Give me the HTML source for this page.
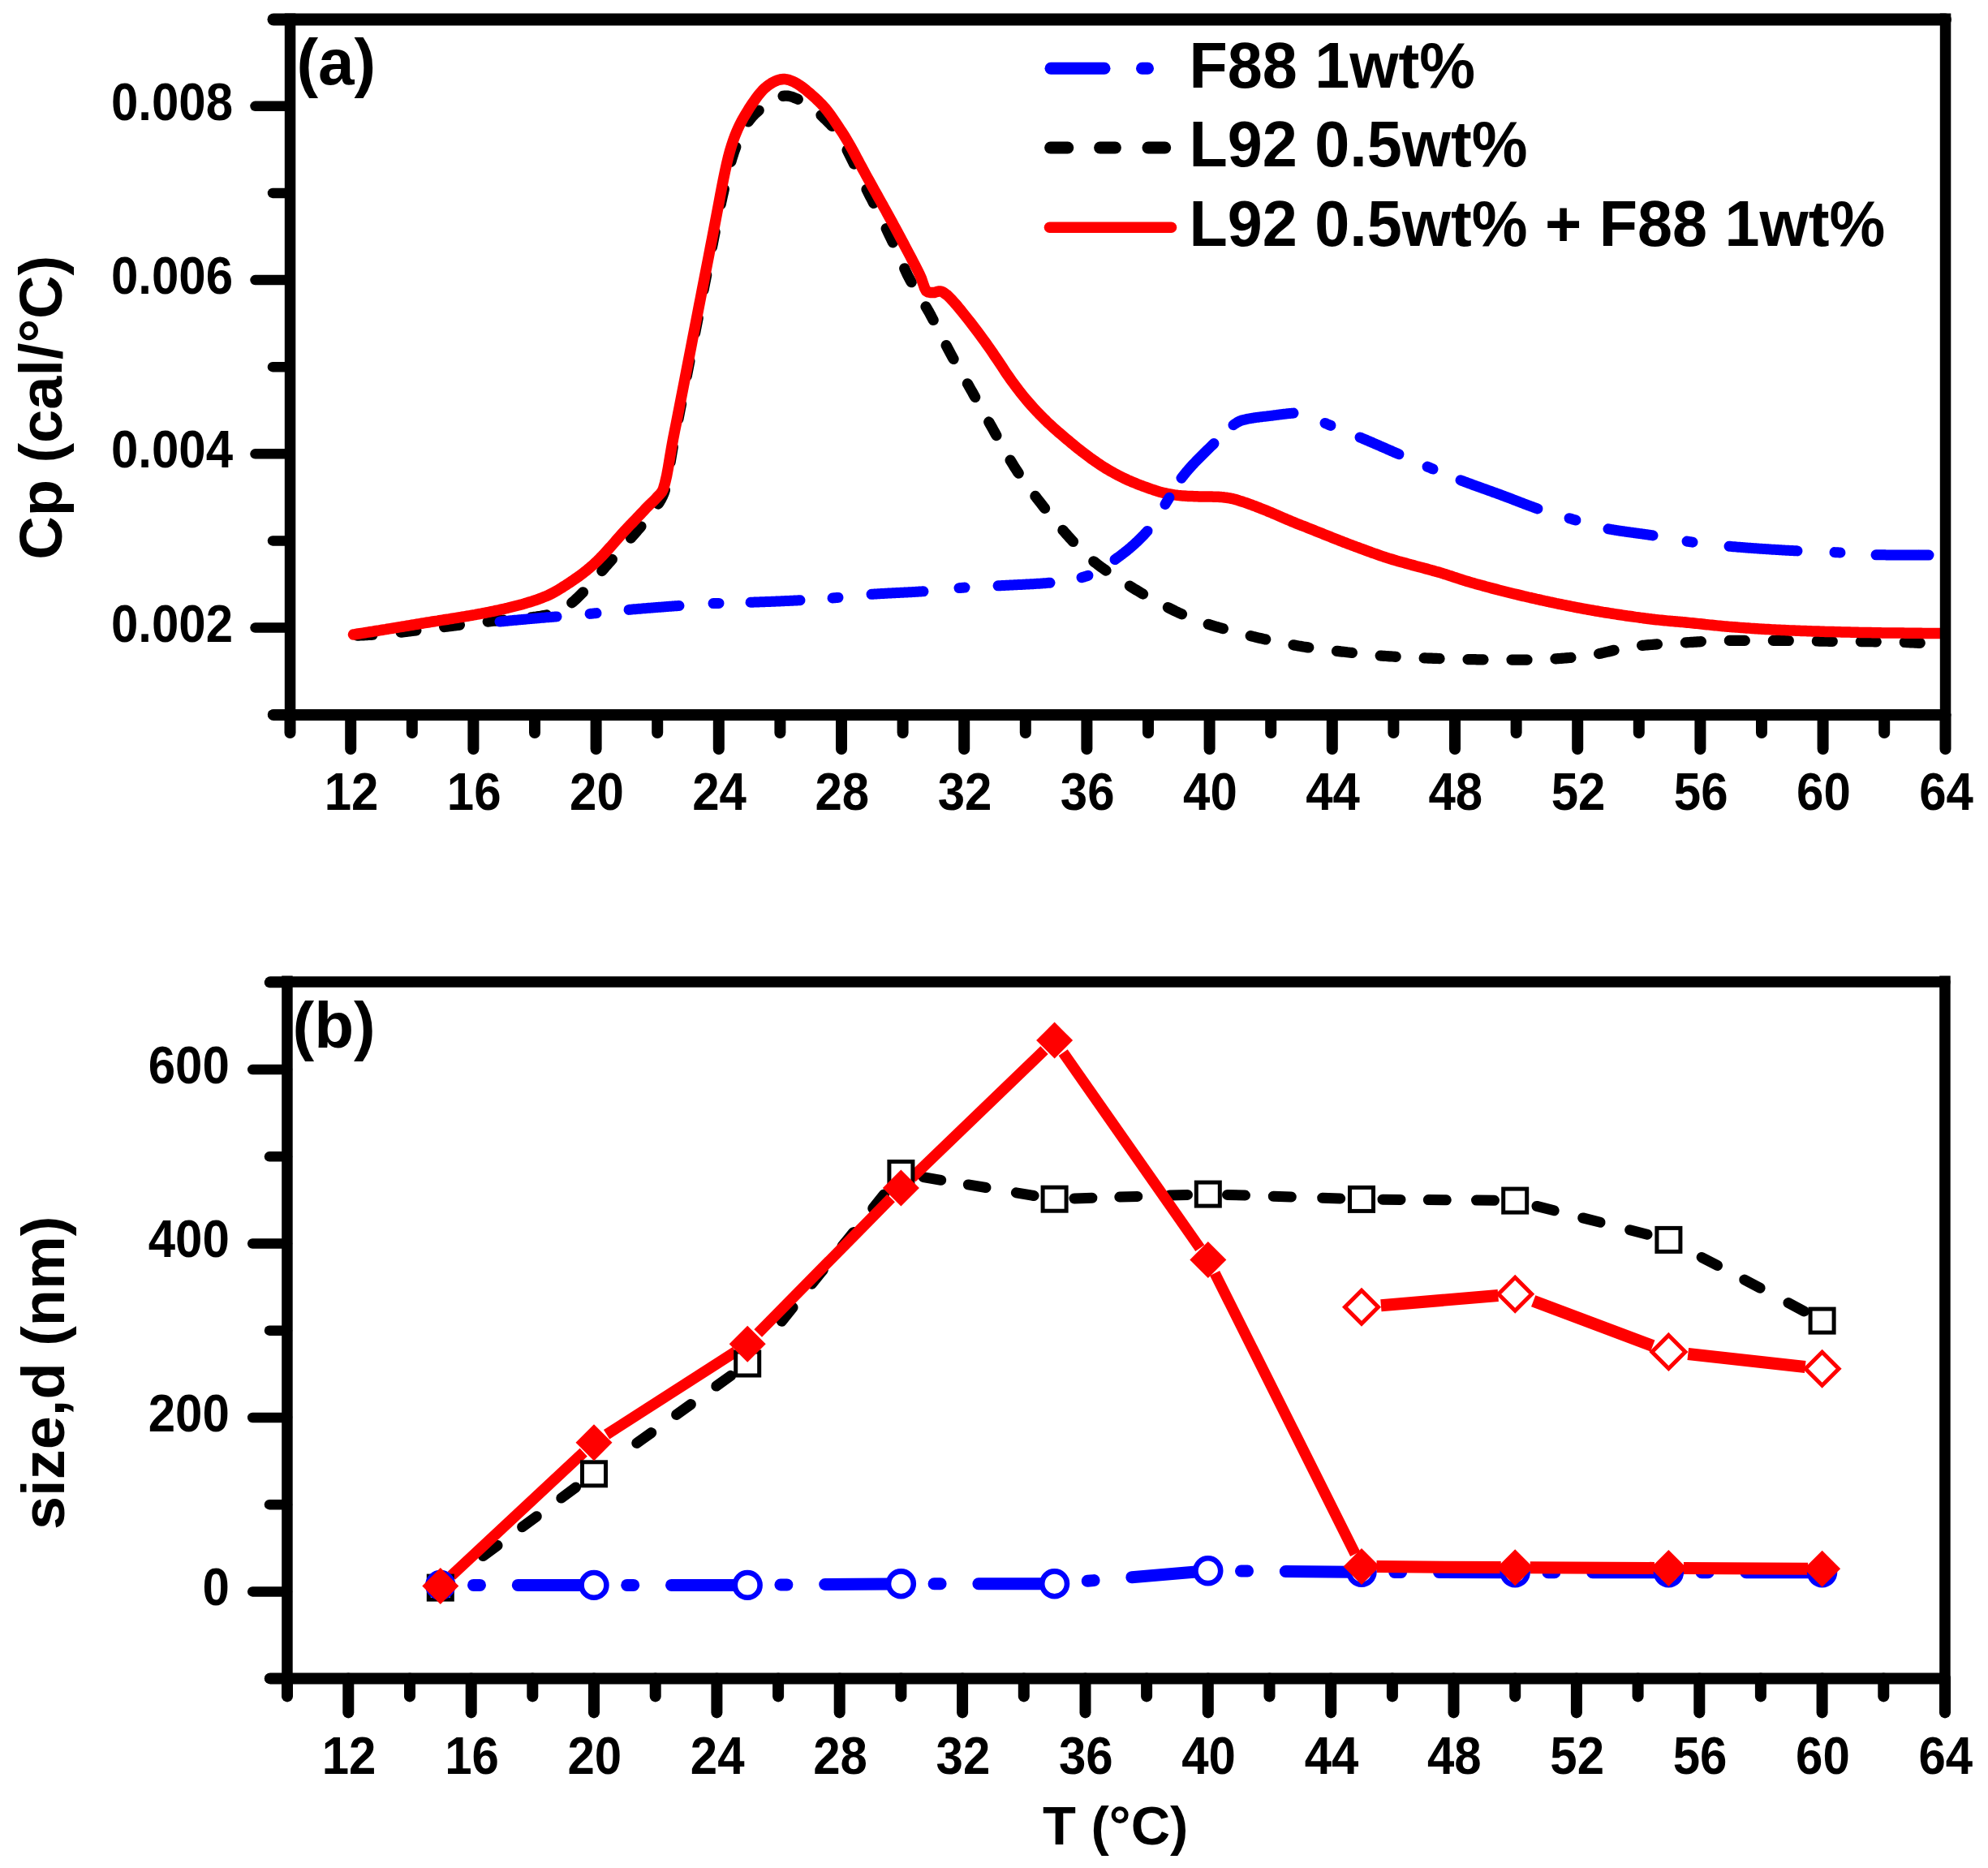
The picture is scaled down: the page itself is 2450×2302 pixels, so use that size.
<!DOCTYPE html>
<html lang="en">
<head>
<meta charset="utf-8">
<title>DSC and DLS of L92 / F88 mixtures</title>
<style>
html,body{margin:0;padding:0;background:#fff;}
body{width:2450px;height:2302px;overflow:hidden;}
svg{display:block;}
</style>
</head>
<body>
<svg width="2450" height="2302" viewBox="0 0 2450 2302">
<rect width="2450" height="2302" fill="#fff"/>
<g fill="none" stroke-linejoin="round">
<polyline points="432.2,783.5 434.2,783.4 436.2,783.4 438.2,783.3 440.2,783.2 442.2,783.1 444.2,783 446.2,782.9 448.2,782.8 450.2,782.7 452.2,782.6 454.2,782.5 456.2,782.4 458.2,782.3 460.2,782.1 462.2,782 464.2,781.9 466.2,781.8 468.2,781.6 470.2,781.5 472.2,781.3 474.2,781.2 476.2,781 478.2,780.8 480.2,780.6 482.2,780.4 484.2,780.2 486.2,780 488.2,779.8 490.2,779.6 492.2,779.4 494.2,779.2 496.2,778.9 498.2,778.7 500.2,778.5 502.2,778.2 504.2,778 506.2,777.7 508.2,777.5 510.2,777.3 512.2,777 514.2,776.8 516.2,776.5 518.2,776.3 520.2,776.1 522.2,775.8 524.2,775.6 526.2,775.3 528.2,775.1 530.2,774.8 532.2,774.6 534.2,774.3 536.2,774.1 538.2,773.8 540.2,773.6 542.2,773.3 544.2,773.1 546.2,772.8 548.2,772.5 550.2,772.3 552.2,772 554.2,771.8 556.2,771.5 558.2,771.2 560.2,771 562.2,770.7 564.2,770.5 566.2,770.2 568.2,770 570.2,769.7 572.2,769.5 574.2,769.2 576.2,769 578.2,768.7 580.2,768.5 582.2,768.2 584.2,768 586.2,767.8 588.2,767.5 590.2,767.3 592.2,767.1 594.2,766.9 596.2,766.6 598.2,766.4 600.2,766.2 602.2,766 604.2,765.7 606.2,765.5 608.2,765.3 610.2,765.1 612.2,764.9 614.2,764.7 616.2,764.6 618.2,764.4 620.2,764.2 622.2,764 624.2,763.9 626.2,763.7 628.2,763.5 630.2,763.4 632.2,763.2 634.2,763 636.2,762.9 638.2,762.7 640.2,762.5 642.2,762.3 644.2,762.1 646.2,761.9 648.2,761.7 650.2,761.4 652.2,761.2 654.2,761 656.2,760.7 658.2,760.4 660.2,760.2 662.2,759.9 664.2,759.6 666.2,759.3 668.2,758.9 670.2,758.6 672.2,758.2 674.2,757.8 676.2,757.4 678.2,756.9 680.2,756.4 682.2,755.9 684.2,755.2 686.2,754.4 688.2,753.5 690.2,752.5 692.2,751.5 694.2,750.4 696.2,749.3 698.2,748 700.2,746.6 702.2,745 704.2,743.3 706.2,741.6 708.2,739.8 710.2,738 712.2,736.2 714.2,734.2 716.2,732.2 718.2,730.2 720.2,728 722.2,725.9 724.2,723.7 726.2,721.5 728.2,719.2 730.2,716.9 732.2,714.6 734.2,712.3 736.2,710 738.2,707.7 740.2,705.4 742.2,703.1 744.2,700.8 746.2,698.5 748.2,696.3 750.2,694 752.2,691.8 754.2,689.5 756.2,687.3 758.2,685 760.2,682.8 762.2,680.5 764.2,678.2 766.2,676 768.2,673.7 770.2,671.4 772.2,669.1 774.2,666.8 776.2,664.5 778.2,662.2 780.2,659.9 782.2,657.6 784.2,655.3 786.2,653 788.2,650.8 790.2,648.5 792.2,646.2 794.2,643.9 796.2,641.6 798.2,639.2 800.2,636.7 802.2,634.1 804.2,631.5 806.2,628.7 808.2,625.7 810.2,622.6 812.2,619.5 814.2,616.2 816.2,612.3 818.2,607.6 820.2,601.6 822.2,592 824.2,581.1 826.2,569 828.2,557.1 830.2,545.5 832.2,535 834.2,525 836.2,515 838.2,504.8 840.2,494.6 842.2,484.4 844.2,474.2 846.2,464 848.2,453.7 850.2,443.4 852.2,433.1 854.2,422.8 856.2,412.5 858.2,402.3 860.2,392 862.2,381.9 864.2,371.7 866.2,361.6 868.2,351.5 870.2,341.4 872.2,331.2 874.2,321.1 876.2,311 878.2,300.9 880.2,290.8 882.2,280.9 884.2,271.1 886.2,261.4 888.2,252 890.2,242.7 892.2,233.7 894.2,225 896.2,216.8 898.2,208.9 900.2,201.6 902.2,194.7 904.2,188.4 906.2,182.7 908.2,177.3 910.2,172.4 912.2,167.9 914.2,163.7 916.2,159.8 918.2,156.3 920.2,153 922.2,150 924.2,147.3 926.2,144.8 928.2,142.6 930.2,140.5 932.2,138.6 934.2,136.9 936.2,135.2 938.2,133.6 940.2,132 942.2,130.5 944.2,128.9 946.2,127.5 948.2,126.1 950.2,124.8 952.2,123.5 954.2,122.4 956.2,121.4 958.2,120.5 960.2,119.7 962.2,119 964.2,118.5 966.2,118.2 968.2,118.1 970.2,118.1 972.2,118.4 974.2,118.9 976.2,119.4 978.2,120.2 980.2,120.9 982.2,121.8 984.2,122.7 986.2,123.7 988.2,124.7 990.2,125.7 992.2,126.9 994.2,128.1 996.2,129.3 998.2,130.7 1000.2,132.1 1002.2,133.6 1004.2,135.2 1006.2,136.8 1008.2,138.6 1010.2,140.4 1012.2,142.3 1014.2,144.2 1016.2,146.1 1018.2,148 1020.2,150 1022.2,152 1024.2,154.1 1026.2,156.4 1028.2,158.8 1030.2,161.4 1032.2,164.2 1034.2,167.3 1036.2,170.5 1038.2,173.9 1040.2,177.5 1042.2,181.3 1044.2,185.2 1046.2,189.2 1048.2,193.2 1050.2,197.3 1052.2,201.4 1054.2,205.5 1056.2,209.6 1058.2,213.7 1060.2,217.7 1062.2,221.7 1064.2,225.7 1066.2,229.8 1068.2,233.7 1070.2,237.7 1072.2,241.7 1074.2,245.6 1076.2,249.6 1078.2,253.5 1080.2,257.5 1082.2,261.5 1084.2,265.5 1086.2,269.5 1088.2,273.6 1090.2,277.6 1092.2,281.7 1094.2,285.9 1096.2,290 1098.2,294.2 1100.2,298.4 1102.2,302.7 1104.2,307 1106.2,311.4 1108.2,315.8 1110.2,320.4 1112.2,325 1114.2,329.6 1116.2,334.1 1118.2,338.4 1120.2,342.3 1122.2,346 1124.2,349.5 1126.2,352.9 1128.2,356.3 1130.2,359.6 1132.2,363.1 1134.2,366.4 1136.2,369.8 1138.2,373.1 1140.2,376.5 1142.2,379.9 1144.2,383.3 1146.2,386.9 1148.2,390.7 1150.2,394.5 1152.2,398.3 1154.2,402.2 1156.2,406.2 1158.2,410.1 1160.2,414.1 1162.2,418 1164.2,421.9 1166.2,425.8 1168.2,429.6 1170.2,433.4 1172.2,437.1 1174.2,440.8 1176.2,444.4 1178.2,447.9 1180.2,451.4 1182.2,454.9 1184.2,458.4 1186.2,461.9 1188.2,465.4 1190.2,468.9 1192.2,472.5 1194.2,476 1196.2,479.6 1198.2,483.1 1200.2,486.7 1202.2,490.3 1204.2,493.9 1206.2,497.5 1208.2,501.1 1210.2,504.7 1212.2,508.3 1214.2,511.9 1216.2,515.5 1218.2,519.1 1220.2,522.7 1222.2,526.3 1224.2,529.9 1226.2,533.5 1228.2,537.1 1230.2,540.7 1232.2,544.3 1234.2,547.9 1236.2,551.5 1238.2,555 1240.2,558.6 1242.2,562.1 1244.2,565.5 1246.2,568.9 1248.2,572.2 1250.2,575.4 1252.2,578.5 1254.2,581.6 1256.2,584.6 1258.2,587.5 1260.2,590.4 1262.2,593.2 1264.2,595.9 1266.2,598.6 1268.2,601.3 1270.2,604 1272.2,606.6 1274.2,609.2 1276.2,611.8 1278.2,614.4 1280.2,617 1282.2,619.6 1284.2,622.1 1286.2,624.7 1288.2,627.2 1290.2,629.7 1292.2,632.2 1294.2,634.7 1296.2,637.2 1298.2,639.6 1300.2,642 1302.2,644.4 1304.2,646.8 1306.2,649.1 1308.2,651.4 1310.2,653.7 1312.2,656 1314.2,658.2 1316.2,660.5 1318.2,662.7 1320.2,664.9 1322.2,667.1 1324.2,669.3 1326.2,671.4 1328.2,673.5 1330.2,675.6 1332.2,677.6 1334.2,679.6 1336.2,681.5 1338.2,683.4 1340.2,685.2 1342.2,687 1344.2,688.7 1346.2,690.4 1348.2,692.1 1350.2,693.6 1352.2,695.2 1354.2,696.7 1356.2,698.2 1358.2,699.7 1360.2,701.1 1362.2,702.5 1364.2,703.9 1366.2,705.3 1368.2,706.6 1370.2,707.9 1372.2,709.3 1374.2,710.6 1376.2,711.9 1378.2,713.2 1380.2,714.5 1382.2,715.7 1384.2,717 1386.2,718.3 1388.2,719.6 1390.2,720.8 1392.2,722.1 1394.2,723.3 1396.2,724.6 1398.2,725.8 1400.2,727 1402.2,728.2 1404.2,729.4 1406.2,730.6 1408.2,731.8 1410.2,732.9 1412.2,734.1 1414.2,735.2 1416.2,736.3 1418.2,737.4 1420.2,738.5 1422.2,739.6 1424.2,740.7 1426.2,741.8 1428.2,742.8 1430.2,743.9 1432.2,744.9 1434.2,745.9 1436.2,747 1438.2,748 1440.2,749 1442.2,750 1444.2,751 1446.2,752 1448.2,753 1450.2,753.9 1452.2,754.9 1454.2,755.8 1456.2,756.7 1458.2,757.6 1460.2,758.5 1462.2,759.4 1464.2,760.2 1466.2,761.1 1468.2,761.9 1470.2,762.7 1472.2,763.4 1474.2,764.2 1476.2,764.9 1478.2,765.6 1480.2,766.3 1482.2,767 1484.2,767.7 1486.2,768.3 1488.2,769 1490.2,769.6 1492.2,770.2 1494.2,770.9 1496.2,771.5 1498.2,772.1 1500.2,772.6 1502.2,773.2 1504.2,773.8 1506.2,774.4 1508.2,774.9 1510.2,775.5 1512.2,776 1514.2,776.6 1516.2,777.1 1518.2,777.7 1520.2,778.2 1522.2,778.8 1524.2,779.3 1526.2,779.8 1528.2,780.3 1530.2,780.9 1532.2,781.4 1534.2,781.9 1536.2,782.4 1538.2,782.9 1540.2,783.4 1542.2,783.9 1544.2,784.4 1546.2,784.8 1548.2,785.3 1550.2,785.8 1552.2,786.3 1554.2,786.7 1556.2,787.2 1558.2,787.6 1560.2,788.1 1562.2,788.5 1564.2,788.9 1566.2,789.3 1568.2,789.8 1570.2,790.2 1572.2,790.6 1574.2,791 1576.2,791.4 1578.2,791.8 1580.2,792.2 1582.2,792.6 1584.2,793 1586.2,793.4 1588.2,793.8 1590.2,794.1 1592.2,794.5 1594.2,794.9 1596.2,795.2 1598.2,795.6 1600.2,796 1602.2,796.3 1604.2,796.6 1606.2,797 1608.2,797.3 1610.2,797.6 1612.2,797.9 1614.2,798.2 1616.2,798.5 1618.2,798.8 1620.2,799.1 1622.2,799.3 1624.2,799.6 1626.2,799.9 1628.2,800.1 1630.2,800.4 1632.2,800.6 1634.2,800.8 1636.2,801.1 1638.2,801.3 1640.2,801.5 1642.2,801.8 1644.2,802 1646.2,802.2 1648.2,802.4 1650.2,802.6 1652.2,802.9 1654.2,803.1 1656.2,803.3 1658.2,803.5 1660.2,803.8 1662.2,804 1664.2,804.2 1666.2,804.4 1668.2,804.7 1670.2,804.9 1672.2,805.1 1674.2,805.3 1676.2,805.6 1678.2,805.8 1680.2,806 1682.2,806.2 1684.2,806.4 1686.2,806.6 1688.2,806.8 1690.2,807 1692.2,807.2 1694.2,807.4 1696.2,807.6 1698.2,807.8 1700.2,807.9 1702.2,808.1 1704.2,808.3 1706.2,808.4 1708.2,808.5 1710.2,808.7 1712.2,808.8 1714.2,808.9 1716.2,809 1718.2,809.2 1720.2,809.3 1722.2,809.4 1724.2,809.5 1726.2,809.6 1728.2,809.7 1730.2,809.8 1732.2,809.9 1734.2,810 1736.2,810.1 1738.2,810.2 1740.2,810.3 1742.2,810.4 1744.2,810.5 1746.2,810.5 1748.2,810.6 1750.2,810.7 1752.2,810.8 1754.2,810.9 1756.2,810.9 1758.2,811 1760.2,811.1 1762.2,811.2 1764.2,811.2 1766.2,811.3 1768.2,811.4 1770.2,811.4 1772.2,811.5 1774.2,811.6 1776.2,811.6 1778.2,811.7 1780.2,811.8 1782.2,811.8 1784.2,811.9 1786.2,812 1788.2,812 1790.2,812.1 1792.2,812.1 1794.2,812.2 1796.2,812.2 1798.2,812.3 1800.2,812.4 1802.2,812.4 1804.2,812.5 1806.2,812.5 1808.2,812.5 1810.2,812.6 1812.2,812.6 1814.2,812.7 1816.2,812.7 1818.2,812.7 1820.2,812.8 1822.2,812.8 1824.2,812.8 1826.2,812.8 1828.2,812.8 1830.2,812.9 1832.2,812.9 1834.2,812.9 1836.2,812.9 1838.2,812.9 1840.2,813 1842.2,813 1844.2,813 1846.2,813 1848.2,813 1850.2,813.1 1852.2,813.1 1854.2,813.1 1856.2,813.1 1858.2,813.1 1860.2,813.1 1862.2,813.1 1864.2,813.1 1866.2,813.2 1868.2,813.2 1870.2,813.2 1872.2,813.2 1874.2,813.2 1876.2,813.2 1878.2,813.2 1880.2,813.2 1882.2,813.2 1884.2,813.2 1886.2,813.2 1888.2,813.1 1890.2,813.1 1892.2,813.1 1894.2,813 1896.2,813 1898.2,812.9 1900.2,812.8 1902.2,812.7 1904.2,812.6 1906.2,812.5 1908.2,812.4 1910.2,812.3 1912.2,812.2 1914.2,812.1 1916.2,811.9 1918.2,811.8 1920.2,811.6 1922.2,811.5 1924.2,811.3 1926.2,811.2 1928.2,811 1930.2,810.8 1932.2,810.7 1934.2,810.5 1936.2,810.3 1938.2,810.1 1940.2,810 1942.2,809.8 1944.2,809.6 1946.2,809.4 1948.2,809.2 1950.2,809 1952.2,808.7 1954.2,808.5 1956.2,808.2 1958.2,807.9 1960.2,807.6 1962.2,807.3 1964.2,806.9 1966.2,806.5 1968.2,806.1 1970.2,805.7 1972.2,805.3 1974.2,804.8 1976.2,804.4 1978.2,803.9 1980.2,803.4 1982.2,803 1984.2,802.5 1986.2,802 1988.2,801.5 1990.2,801.1 1992.2,800.6 1994.2,800.1 1996.2,799.7 1998.2,799.3 2000.2,798.8 2002.2,798.4 2004.2,798 2006.2,797.7 2008.2,797.3 2010.2,797 2012.2,796.7 2014.2,796.4 2016.2,796.2 2018.2,796 2020.2,795.8 2022.2,795.6 2024.2,795.4 2026.2,795.2 2028.2,795 2030.2,794.8 2032.2,794.7 2034.2,794.5 2036.2,794.4 2038.2,794.2 2040.2,794.1 2042.2,793.9 2044.2,793.8 2046.2,793.7 2048.2,793.5 2050.2,793.4 2052.2,793.3 2054.2,793.2 2056.2,793 2058.2,792.9 2060.2,792.8 2062.2,792.7 2064.2,792.6 2066.2,792.5 2068.2,792.4 2070.2,792.2 2072.2,792.1 2074.2,792 2076.2,791.9 2078.2,791.8 2080.2,791.7 2082.2,791.5 2084.2,791.4 2086.2,791.3 2088.2,791.2 2090.2,791.1 2092.2,790.9 2094.2,790.8 2096.2,790.7 2098.2,790.6 2100.2,790.4 2102.2,790.3 2104.2,790.2 2106.2,790.1 2108.2,790 2110.2,789.9 2112.2,789.8 2114.2,789.8 2116.2,789.7 2118.2,789.6 2120.2,789.6 2122.2,789.5 2124.2,789.5 2126.2,789.5 2128.2,789.4 2130.2,789.4 2132.2,789.4 2134.2,789.4 2136.2,789.4 2138.2,789.4 2140.2,789.4 2142.2,789.4 2144.2,789.4 2146.2,789.4 2148.2,789.4 2150.2,789.4 2152.2,789.4 2154.2,789.4 2156.2,789.4 2158.2,789.4 2160.2,789.4 2162.2,789.4 2164.2,789.4 2166.2,789.4 2168.2,789.4 2170.2,789.4 2172.2,789.4 2174.2,789.4 2176.2,789.4 2178.2,789.4 2180.2,789.4 2182.2,789.4 2184.2,789.4 2186.2,789.4 2188.2,789.4 2190.2,789.4 2192.2,789.4 2194.2,789.4 2196.2,789.4 2198.2,789.4 2200.2,789.5 2202.2,789.5 2204.2,789.5 2206.2,789.5 2208.2,789.5 2210.2,789.6 2212.2,789.6 2214.2,789.6 2216.2,789.6 2218.2,789.7 2220.2,789.7 2222.2,789.7 2224.2,789.8 2226.2,789.8 2228.2,789.8 2230.2,789.9 2232.2,789.9 2234.2,789.9 2236.2,790 2238.2,790 2240.2,790 2242.2,790.1 2244.2,790.1 2246.2,790.1 2248.2,790.2 2250.2,790.2 2252.2,790.2 2254.2,790.3 2256.2,790.3 2258.2,790.3 2260.2,790.3 2262.2,790.3 2264.2,790.4 2266.2,790.4 2268.2,790.4 2270.2,790.4 2272.2,790.4 2274.2,790.5 2276.2,790.5 2278.2,790.5 2280.2,790.5 2282.2,790.5 2284.2,790.5 2286.2,790.5 2288.2,790.6 2290.2,790.6 2292.2,790.6 2294.2,790.6 2296.2,790.6 2298.2,790.6 2300.2,790.7 2302.2,790.7 2304.2,790.7 2306.2,790.7 2308.2,790.7 2310.2,790.8 2312.2,790.8 2314.2,790.8 2316.2,790.8 2318.2,790.8 2320.2,790.9 2322.2,790.9 2324.2,790.9 2326.2,791 2328.2,791 2330.2,791 2332.2,791.1 2334.2,791.1 2336.2,791.1 2338.2,791.2 2340.2,791.3 2342.2,791.3 2344.2,791.4 2346.2,791.5 2348.2,791.5 2350.2,791.6 2352.2,791.7 2354.2,791.8 2356.2,791.9 2358.2,792 2360.2,792.1 2362.2,792.2 2364.2,792.3 2366.2,792.4 2368.2,792.5 2370.2,792.6 2372.2,792.7 2374.2,792.8 2376.2,793 2378.2,793.1 2380.2,793.2 2382.2,793.3 2384.2,793.5 2386.2,793.6 2388.2,793.7 2390.2,793.8 2392.2,794 2394.2,794.1 2396.2,794.2 2397,794.3" stroke="#000" stroke-width="13.2" stroke-linecap="round" stroke-dasharray="19 35" stroke-dashoffset="-8"/>
<polyline points="435.5,782 437.5,781.7 439.5,781.3 441.5,781 443.5,780.7 445.5,780.4 447.5,780.1 449.5,779.8 451.5,779.4 453.5,779.1 455.5,778.8 457.5,778.5 459.5,778.2 461.5,777.8 463.5,777.5 465.5,777.2 467.5,776.9 469.5,776.5 471.5,776.2 473.5,775.9 475.5,775.6 477.5,775.2 479.5,774.9 481.5,774.6 483.5,774.3 485.5,773.9 487.5,773.6 489.5,773.3 491.5,772.9 493.5,772.6 495.5,772.3 497.5,772 499.5,771.6 501.5,771.3 503.5,771 505.5,770.6 507.5,770.3 509.5,770 511.5,769.6 513.5,769.3 515.5,769 517.5,768.6 519.5,768.3 521.5,768 523.5,767.6 525.5,767.3 527.5,767 529.5,766.7 531.5,766.3 533.5,766 535.5,765.7 537.5,765.4 539.5,765.1 541.5,764.7 543.5,764.4 545.5,764.1 547.5,763.8 549.5,763.5 551.5,763.2 553.5,762.9 555.5,762.5 557.5,762.2 559.5,761.9 561.5,761.6 563.5,761.3 565.5,760.9 567.5,760.6 569.5,760.3 571.5,760 573.5,759.6 575.5,759.3 577.5,759 579.5,758.6 581.5,758.3 583.5,757.9 585.5,757.6 587.5,757.2 589.5,756.8 591.5,756.5 593.5,756.1 595.5,755.7 597.5,755.3 599.5,754.9 601.5,754.5 603.5,754.1 605.5,753.7 607.5,753.3 609.5,752.9 611.5,752.4 613.5,752 615.5,751.6 617.5,751.1 619.5,750.7 621.5,750.2 623.5,749.7 625.5,749.3 627.5,748.8 629.5,748.3 631.5,747.8 633.5,747.3 635.5,746.8 637.5,746.3 639.5,745.8 641.5,745.2 643.5,744.7 645.5,744.1 647.5,743.5 649.5,742.9 651.5,742.3 653.5,741.7 655.5,741.1 657.5,740.4 659.5,739.8 661.5,739.1 663.5,738.4 665.5,737.6 667.5,736.9 669.5,736.1 671.5,735.3 673.5,734.5 675.5,733.6 677.5,732.6 679.5,731.6 681.5,730.6 683.5,729.5 685.5,728.4 687.5,727.2 689.5,726 691.5,724.8 693.5,723.5 695.5,722.2 697.5,721 699.5,719.7 701.5,718.4 703.5,717 705.5,715.7 707.5,714.3 709.5,712.9 711.5,711.5 713.5,710.1 715.5,708.6 717.5,707.1 719.5,705.6 721.5,704 723.5,702.4 725.5,700.7 727.5,699.1 729.5,697.3 731.5,695.6 733.5,693.7 735.5,691.8 737.5,689.9 739.5,687.8 741.5,685.8 743.5,683.7 745.5,681.5 747.5,679.3 749.5,677.1 751.5,674.9 753.5,672.7 755.5,670.4 757.5,668.1 759.5,665.8 761.5,663.5 763.5,661.3 765.5,659 767.5,656.7 769.5,654.5 771.5,652.4 773.5,650.2 775.5,648.1 777.5,646.1 779.5,644 781.5,641.9 783.5,639.8 785.5,637.7 787.5,635.6 789.5,633.5 791.5,631.4 793.5,629.3 795.5,627.1 797.5,625.1 799.5,623.1 801.5,621.1 803.5,619.2 805.5,617.2 807.5,615.2 809.5,613 811.5,610.9 813.5,608.8 815.5,606.4 817.5,602.4 819.5,595.4 821.5,586.9 823.5,576.2 825.5,564.2 827.5,552.4 829.5,541.2 831.5,531 833.5,521.1 835.5,510.8 837.5,500.6 839.5,490.3 841.5,480 843.5,469.7 845.5,459.4 847.5,449.1 849.5,438.8 851.5,428.5 853.5,418.1 855.5,407.8 857.5,397.5 859.5,387.2 861.5,376.9 863.5,366.7 865.5,356.4 867.5,346.1 869.5,335.8 871.5,325.5 873.5,315.2 875.5,304.8 877.5,294.5 879.5,284.1 881.5,273.6 883.5,263.1 885.5,252.5 887.5,241.8 889.5,231.3 891.5,221 893.5,211.3 895.5,202.2 897.5,193.8 899.5,186.3 901.5,179.6 903.5,173.5 905.5,168 907.5,163 909.5,158.4 911.5,154.2 913.5,150.2 915.5,146.5 917.5,143 919.5,139.7 921.5,136.4 923.5,133.2 925.5,130.1 927.5,127.2 929.5,124.3 931.5,121.5 933.5,118.8 935.5,116.2 937.5,113.9 939.5,111.6 941.5,109.6 943.5,107.8 945.5,106.1 947.5,104.6 949.5,103.3 951.5,102 953.5,101 955.5,100 957.5,99.2 959.5,98.5 961.5,98 963.5,97.7 965.5,97.5 967.5,97.6 969.5,97.9 971.5,98.3 973.5,98.9 975.5,99.7 977.5,100.5 979.5,101.5 981.5,102.6 983.5,103.8 985.5,105.1 987.5,106.5 989.5,108 991.5,109.5 993.5,111.1 995.5,112.8 997.5,114.5 999.5,116.2 1001.5,118 1003.5,119.8 1005.5,121.6 1007.5,123.5 1009.5,125.4 1011.5,127.4 1013.5,129.5 1015.5,131.7 1017.5,134 1019.5,136.5 1021.5,139.1 1023.5,141.8 1025.5,144.6 1027.5,147.5 1029.5,150.5 1031.5,153.5 1033.5,156.5 1035.5,159.6 1037.5,162.6 1039.5,165.7 1041.5,168.9 1043.5,172.2 1045.5,175.6 1047.5,179.1 1049.5,182.6 1051.5,186.3 1053.5,190 1055.5,193.8 1057.5,197.5 1059.5,201.3 1061.5,205 1063.5,208.7 1065.5,212.4 1067.5,216.1 1069.5,219.7 1071.5,223.3 1073.5,227 1075.5,230.6 1077.5,234.2 1079.5,237.8 1081.5,241.4 1083.5,245 1085.5,248.5 1087.5,252.1 1089.5,255.7 1091.5,259.3 1093.5,263 1095.5,266.6 1097.5,270.3 1099.5,273.9 1101.5,277.6 1103.5,281.3 1105.5,285 1107.5,288.7 1109.5,292.5 1111.5,296.2 1113.5,300 1115.5,303.8 1117.5,307.6 1119.5,311.4 1121.5,315.2 1123.5,319 1125.5,322.8 1127.5,326.6 1129.5,330.5 1131.5,334.5 1133.5,338.7 1135.5,343.3 1137.5,349.1 1139.5,354.8 1141.5,358.7 1143.5,359.8 1145.5,360.2 1147.5,360.5 1149.5,360.6 1151.5,360.5 1153.5,359.9 1155.5,359.3 1157.5,358.9 1159.5,358.9 1161.5,359.7 1163.5,361 1165.5,362.5 1167.5,363.9 1169.5,365.8 1171.5,367.9 1173.5,370 1175.5,372.2 1177.5,374.5 1179.5,376.8 1181.5,379.2 1183.5,381.6 1185.5,384.1 1187.5,386.6 1189.5,389.1 1191.5,391.6 1193.5,394.1 1195.5,396.7 1197.5,399.2 1199.5,401.8 1201.5,404.5 1203.5,407.1 1205.5,409.8 1207.5,412.5 1209.5,415.2 1211.5,417.9 1213.5,420.7 1215.5,423.5 1217.5,426.3 1219.5,429.1 1221.5,432 1223.5,434.9 1225.5,437.9 1227.5,440.8 1229.5,443.8 1231.5,446.8 1233.5,449.8 1235.5,452.8 1237.5,455.9 1239.5,458.9 1241.5,461.8 1243.5,464.7 1245.5,467.6 1247.5,470.4 1249.5,473.1 1251.5,475.8 1253.5,478.4 1255.5,481 1257.5,483.6 1259.5,486.1 1261.5,488.6 1263.5,491 1265.5,493.4 1267.5,495.7 1269.5,498 1271.5,500.3 1273.5,502.5 1275.5,504.7 1277.5,506.8 1279.5,508.9 1281.5,511 1283.5,513 1285.5,515 1287.5,517 1289.5,518.9 1291.5,520.9 1293.5,522.7 1295.5,524.6 1297.5,526.4 1299.5,528.2 1301.5,530 1303.5,531.8 1305.5,533.5 1307.5,535.2 1309.5,536.9 1311.5,538.6 1313.5,540.3 1315.5,542 1317.5,543.6 1319.5,545.3 1321.5,547 1323.5,548.6 1325.5,550.3 1327.5,551.9 1329.5,553.5 1331.5,555.1 1333.5,556.7 1335.5,558.2 1337.5,559.7 1339.5,561.2 1341.5,562.7 1343.5,564.2 1345.5,565.6 1347.5,567 1349.5,568.4 1351.5,569.8 1353.5,571.2 1355.5,572.5 1357.5,573.8 1359.5,575.1 1361.5,576.4 1363.5,577.6 1365.5,578.8 1367.5,580 1369.5,581.1 1371.5,582.2 1373.5,583.3 1375.5,584.4 1377.5,585.5 1379.5,586.5 1381.5,587.5 1383.5,588.5 1385.5,589.5 1387.5,590.4 1389.5,591.4 1391.5,592.3 1393.5,593.1 1395.5,594 1397.5,594.8 1399.5,595.6 1401.5,596.4 1403.5,597.2 1405.5,598 1407.5,598.7 1409.5,599.5 1411.5,600.2 1413.5,600.9 1415.5,601.6 1417.5,602.3 1419.5,603 1421.5,603.7 1423.5,604.3 1425.5,605 1427.5,605.6 1429.5,606.2 1431.5,606.7 1433.5,607.2 1435.5,607.7 1437.5,608.1 1439.5,608.5 1441.5,608.9 1443.5,609.3 1445.5,609.6 1447.5,609.9 1449.5,610.1 1451.5,610.4 1453.5,610.6 1455.5,610.8 1457.5,610.9 1459.5,611.1 1461.5,611.2 1463.5,611.4 1465.5,611.5 1467.5,611.6 1469.5,611.6 1471.5,611.7 1473.5,611.8 1475.5,611.8 1477.5,611.9 1479.5,611.9 1481.5,611.9 1483.5,612 1485.5,612 1487.5,612 1489.5,612 1491.5,612.1 1493.5,612.1 1495.5,612.2 1497.5,612.2 1499.5,612.3 1501.5,612.3 1503.5,612.5 1505.5,612.6 1507.5,612.8 1509.5,613.1 1511.5,613.3 1513.5,613.6 1515.5,613.9 1517.5,614.3 1519.5,614.7 1521.5,615.2 1523.5,615.8 1525.5,616.4 1527.5,617.1 1529.5,617.7 1531.5,618.3 1533.5,619 1535.5,619.7 1537.5,620.4 1539.5,621.1 1541.5,621.8 1543.5,622.6 1545.5,623.3 1547.5,624.1 1549.5,624.9 1551.5,625.6 1553.5,626.4 1555.5,627.2 1557.5,628 1559.5,628.8 1561.5,629.6 1563.5,630.5 1565.5,631.3 1567.5,632.1 1569.5,633 1571.5,633.8 1573.5,634.7 1575.5,635.6 1577.5,636.4 1579.5,637.3 1581.5,638.2 1583.5,639 1585.5,639.9 1587.5,640.7 1589.5,641.6 1591.5,642.4 1593.5,643.2 1595.5,644.1 1597.5,644.9 1599.5,645.7 1601.5,646.5 1603.5,647.3 1605.5,648 1607.5,648.8 1609.5,649.6 1611.5,650.4 1613.5,651.2 1615.5,652 1617.5,652.8 1619.5,653.6 1621.5,654.4 1623.5,655.2 1625.5,656 1627.5,656.8 1629.5,657.6 1631.5,658.4 1633.5,659.2 1635.5,660 1637.5,660.8 1639.5,661.6 1641.5,662.4 1643.5,663.2 1645.5,664 1647.5,664.8 1649.5,665.6 1651.5,666.4 1653.5,667.1 1655.5,667.9 1657.5,668.7 1659.5,669.4 1661.5,670.2 1663.5,671 1665.5,671.7 1667.5,672.5 1669.5,673.2 1671.5,674 1673.5,674.7 1675.5,675.4 1677.5,676.2 1679.5,676.9 1681.5,677.6 1683.5,678.4 1685.5,679.1 1687.5,679.8 1689.5,680.6 1691.5,681.3 1693.5,682 1695.5,682.7 1697.5,683.4 1699.5,684.1 1701.5,684.8 1703.5,685.5 1705.5,686.2 1707.5,686.8 1709.5,687.5 1711.5,688.1 1713.5,688.7 1715.5,689.4 1717.5,689.9 1719.5,690.5 1721.5,691.1 1723.5,691.7 1725.5,692.2 1727.5,692.8 1729.5,693.3 1731.5,693.9 1733.5,694.4 1735.5,695 1737.5,695.5 1739.5,696.1 1741.5,696.6 1743.5,697.1 1745.5,697.7 1747.5,698.2 1749.5,698.8 1751.5,699.3 1753.5,699.8 1755.5,700.4 1757.5,700.9 1759.5,701.4 1761.5,702 1763.5,702.5 1765.5,703.1 1767.5,703.6 1769.5,704.2 1771.5,704.7 1773.5,705.3 1775.5,705.9 1777.5,706.5 1779.5,707.2 1781.5,707.8 1783.5,708.4 1785.5,709.1 1787.5,709.7 1789.5,710.4 1791.5,711.1 1793.5,711.7 1795.5,712.4 1797.5,713 1799.5,713.7 1801.5,714.3 1803.5,715 1805.5,715.6 1807.5,716.2 1809.5,716.8 1811.5,717.4 1813.5,718 1815.5,718.5 1817.5,719.1 1819.5,719.7 1821.5,720.2 1823.5,720.8 1825.5,721.3 1827.5,721.9 1829.5,722.4 1831.5,723 1833.5,723.5 1835.5,724 1837.5,724.6 1839.5,725.1 1841.5,725.6 1843.5,726.1 1845.5,726.6 1847.5,727.2 1849.5,727.7 1851.5,728.2 1853.5,728.7 1855.5,729.2 1857.5,729.7 1859.5,730.2 1861.5,730.7 1863.5,731.2 1865.5,731.7 1867.5,732.2 1869.5,732.6 1871.5,733.1 1873.5,733.6 1875.5,734.1 1877.5,734.6 1879.5,735 1881.5,735.5 1883.5,736 1885.5,736.4 1887.5,736.9 1889.5,737.3 1891.5,737.8 1893.5,738.3 1895.5,738.7 1897.5,739.1 1899.5,739.6 1901.5,740 1903.5,740.5 1905.5,740.9 1907.5,741.3 1909.5,741.8 1911.5,742.2 1913.5,742.6 1915.5,743 1917.5,743.5 1919.5,743.9 1921.5,744.3 1923.5,744.7 1925.5,745.1 1927.5,745.5 1929.5,745.9 1931.5,746.3 1933.5,746.7 1935.5,747.1 1937.5,747.5 1939.5,747.9 1941.5,748.3 1943.5,748.7 1945.5,749 1947.5,749.4 1949.5,749.8 1951.5,750.2 1953.5,750.5 1955.5,750.9 1957.5,751.3 1959.5,751.6 1961.5,752 1963.5,752.3 1965.5,752.7 1967.5,753 1969.5,753.3 1971.5,753.7 1973.5,754 1975.5,754.4 1977.5,754.7 1979.5,755 1981.5,755.3 1983.5,755.6 1985.5,756 1987.5,756.3 1989.5,756.6 1991.5,756.9 1993.5,757.2 1995.5,757.5 1997.5,757.8 1999.5,758.1 2001.5,758.4 2003.5,758.7 2005.5,759 2007.5,759.2 2009.5,759.5 2011.5,759.8 2013.5,760.1 2015.5,760.4 2017.5,760.6 2019.5,760.9 2021.5,761.2 2023.5,761.4 2025.5,761.7 2027.5,762 2029.5,762.2 2031.5,762.5 2033.5,762.7 2035.5,763 2037.5,763.2 2039.5,763.5 2041.5,763.7 2043.5,763.9 2045.5,764.1 2047.5,764.3 2049.5,764.5 2051.5,764.7 2053.5,764.9 2055.5,765.1 2057.5,765.3 2059.5,765.5 2061.5,765.6 2063.5,765.8 2065.5,766 2067.5,766.1 2069.5,766.3 2071.5,766.5 2073.5,766.6 2075.5,766.8 2077.5,767 2079.5,767.2 2081.5,767.4 2083.5,767.6 2085.5,767.8 2087.5,768 2089.5,768.2 2091.5,768.4 2093.5,768.6 2095.5,768.8 2097.5,769 2099.5,769.2 2101.5,769.5 2103.5,769.7 2105.5,769.9 2107.5,770.1 2109.5,770.3 2111.5,770.5 2113.5,770.7 2115.5,770.9 2117.5,771.1 2119.5,771.3 2121.5,771.5 2123.5,771.7 2125.5,771.9 2127.5,772 2129.5,772.2 2131.5,772.4 2133.5,772.5 2135.5,772.7 2137.5,772.8 2139.5,773 2141.5,773.1 2143.5,773.3 2145.5,773.4 2147.5,773.6 2149.5,773.7 2151.5,773.9 2153.5,774 2155.5,774.1 2157.5,774.3 2159.5,774.4 2161.5,774.5 2163.5,774.7 2165.5,774.8 2167.5,774.9 2169.5,775.1 2171.5,775.2 2173.5,775.3 2175.5,775.4 2177.5,775.5 2179.5,775.6 2181.5,775.7 2183.5,775.9 2185.5,776 2187.5,776.1 2189.5,776.2 2191.5,776.3 2193.5,776.3 2195.5,776.4 2197.5,776.5 2199.5,776.6 2201.5,776.7 2203.5,776.8 2205.5,776.9 2207.5,776.9 2209.5,777 2211.5,777.1 2213.5,777.2 2215.5,777.3 2217.5,777.3 2219.5,777.4 2221.5,777.5 2223.5,777.6 2225.5,777.6 2227.5,777.7 2229.5,777.8 2231.5,777.8 2233.5,777.9 2235.5,778 2237.5,778 2239.5,778.1 2241.5,778.1 2243.5,778.2 2245.5,778.3 2247.5,778.3 2249.5,778.4 2251.5,778.4 2253.5,778.5 2255.5,778.5 2257.5,778.6 2259.5,778.6 2261.5,778.7 2263.5,778.7 2265.5,778.8 2267.5,778.8 2269.5,778.9 2271.5,778.9 2273.5,779 2275.5,779 2277.5,779.1 2279.5,779.1 2281.5,779.2 2283.5,779.2 2285.5,779.3 2287.5,779.3 2289.5,779.3 2291.5,779.4 2293.5,779.4 2295.5,779.5 2297.5,779.5 2299.5,779.5 2301.5,779.6 2303.5,779.6 2305.5,779.6 2307.5,779.7 2309.5,779.7 2311.5,779.7 2313.5,779.8 2315.5,779.8 2317.5,779.8 2319.5,779.9 2321.5,779.9 2323.5,779.9 2325.5,779.9 2327.5,780 2329.5,780 2331.5,780 2333.5,780 2335.5,780 2337.5,780.1 2339.5,780.1 2341.5,780.1 2343.5,780.1 2345.5,780.1 2347.5,780.2 2349.5,780.2 2351.5,780.2 2353.5,780.2 2355.5,780.2 2357.5,780.3 2359.5,780.3 2361.5,780.3 2363.5,780.3 2365.5,780.3 2367.5,780.3 2369.5,780.4 2371.5,780.4 2373.5,780.4 2375.5,780.4 2377.5,780.4 2379.5,780.4 2381.5,780.4 2383.5,780.5 2385.5,780.5 2387.5,780.5 2389.5,780.5 2391.5,780.5 2393.5,780.5 2395.5,780.5 2397,780.5" stroke="#ff0000" stroke-width="13.5" stroke-linecap="round"/>
<g stroke="#0000ff" stroke-width="13" stroke-linecap="round">
<polyline points="616,766.1 617,766 618,765.9 619,765.8 620,765.7 621,765.6 622,765.5 623,765.4 624,765.3 625,765.2 626,765.1 627,765 628,764.9 629,764.8 630,764.7 631,764.6 632,764.5 633,764.4 634,764.3 635,764.3 636,764.2 637,764.1 638,764 639,763.9 640,763.8 641,763.7 642,763.6 643,763.5 644,763.4 645,763.4 646,763.3 647,763.2 648,763.1 649,763 650,762.9 651,762.8 652,762.7 653,762.6 654,762.6 655,762.5 656,762.4 657,762.3 658,762.2 659,762.1 660,762 661,761.9 662,761.9 663,761.8 664,761.7 665,761.6 666,761.5 667,761.4 668,761.3 669,761.3 670,761.2 671,761.1 672,761 673,760.9 674,760.8 675,760.8 676,760.7 677,760.6 678,760.5 679,760.4 680,760.4 681,760.3 682,760.2 683,760.1 684,760 685,760 686,759.9"/>
<polyline points="727,756.4 728,756.3 729,756.2 730,756.1 731,756 732,755.9 733,755.8 734,755.7 735,755.6"/>
<polyline points="775,751.4 776,751.3 777,751.2 778,751.1 779,751 780,750.9 781,750.8 782,750.8 783,750.7 784,750.6 785,750.5 786,750.4 787,750.3 788,750.2 789,750.2 790,750.1 791,750 792,749.9 793,749.8 794,749.7 795,749.7 796,749.6 797,749.5 798,749.4 799,749.3 800,749.3 801,749.2 802,749.1 803,749 804,748.9 805,748.9 806,748.8 807,748.7 808,748.6 809,748.6 810,748.5 811,748.4 812,748.3 813,748.2 814,748.2 815,748.1 816,748 817,747.9 818,747.9 819,747.8 820,747.7 821,747.6 822,747.6 823,747.5 824,747.4 825,747.3 826,747.3 827,747.2 828,747.1 829,747.1 830,747 831,746.9 832,746.8 833,746.8 834,746.7 835,746.6 836,746.5 837,746.5"/>
<polyline points="879,743.6 880,743.6 881,743.6 882,743.5 883,743.5 884,743.4 885,743.4 886,743.4"/>
<polyline points="925,742.3 926,742.2 927,742.2 928,742.2 929,742.1 930,742.1 931,742.1 932,742 933,742 934,742 935,741.9 936,741.9 937,741.8 938,741.8 939,741.8 940,741.7 941,741.7 942,741.7 943,741.6 944,741.6 945,741.5 946,741.5 947,741.5 948,741.4 949,741.4 950,741.4 951,741.3 952,741.3 953,741.2 954,741.2 955,741.2 956,741.1 957,741.1 958,741 959,741 960,740.9 961,740.9 962,740.9 963,740.8 964,740.8 965,740.7 966,740.7 967,740.6 968,740.6 969,740.5 970,740.5 971,740.5 972,740.4 973,740.4 974,740.3 975,740.3 976,740.2 977,740.2 978,740.1 979,740.1 980,740 981,740 982,739.9 983,739.9 984,739.8 985,739.8 986,739.7"/>
<polyline points="1026,737 1027,736.9 1028,736.8 1029,736.7 1030,736.6 1031,736.5 1032,736.5 1033,736.4"/>
<polyline points="1074,732.3 1075,732.3 1076,732.2 1077,732.1 1078,732.1 1079,732 1080,731.9 1081,731.9 1082,731.8 1083,731.8 1084,731.7 1085,731.6 1086,731.6 1087,731.5 1088,731.5 1089,731.4 1090,731.4 1091,731.3 1092,731.2 1093,731.2 1094,731.1 1095,731.1 1096,731 1097,731 1098,730.9 1099,730.9 1100,730.8 1101,730.8 1102,730.7 1103,730.7 1104,730.6 1105,730.6 1106,730.5 1107,730.5 1108,730.4 1109,730.4 1110,730.3 1111,730.3 1112,730.2 1113,730.2 1114,730.1 1115,730.1 1116,730 1117,730 1118,729.9 1119,729.9 1120,729.8 1121,729.8 1122,729.7 1123,729.7 1124,729.6 1125,729.6 1126,729.5 1127,729.4 1128,729.4 1129,729.3 1130,729.3 1131,729.2 1132,729.1 1133,729.1 1134,729 1135,729 1136,728.9 1137,728.8 1138,728.8"/>
<polyline points="1182,724.6 1183,724.5 1184,724.4 1185,724.4 1186,724.3 1187,724.2 1188,724.1 1189,724.1"/>
<polyline points="1230,721.8 1231,721.8 1232,721.7 1233,721.7 1234,721.6 1235,721.6 1236,721.5 1237,721.5 1238,721.4 1239,721.4 1240,721.3 1241,721.3 1242,721.2 1243,721.2 1244,721.1 1245,721.1 1246,721 1247,721 1248,720.9 1249,720.9 1250,720.8 1251,720.8 1252,720.7 1253,720.7 1254,720.6 1255,720.6 1256,720.5 1257,720.5 1258,720.4 1259,720.4 1260,720.4 1261,720.3 1262,720.2 1263,720.2 1264,720.1 1265,720.1 1266,720 1267,720 1268,719.9 1269,719.9 1270,719.8 1271,719.8 1272,719.7 1273,719.7 1274,719.6 1275,719.5 1276,719.5 1277,719.4 1278,719.3 1279,719.3 1280,719.2 1281,719.2 1282,719.1 1283,719 1284,718.9 1285,718.9 1286,718.8 1287,718.7 1288,718.7 1289,718.6 1290,718.5 1291,718.4 1292,718.3 1293,718.3 1294,718.2"/>
<polyline points="1333,711.7 1334,711.4 1335,711.2 1336,710.9 1337,710.6 1338,710.3 1339,710 1340,709.6 1341,709.2"/>
<polyline points="1374,689.6 1375,688.9 1376,688.2 1377,687.4 1378,686.7 1379,686 1380,685.3 1381,684.5 1382,683.8 1383,683 1384,682.2 1385,681.5 1386,680.7 1387,679.9 1388,679.1 1389,678.3 1390,677.5 1391,676.6 1392,675.8 1393,675 1394,674.1 1395,673.2 1396,672.3 1397,671.5 1398,670.6 1399,669.6 1400,668.7 1401,667.8 1402,666.8 1403,665.9 1404,664.9 1405,663.9 1406,662.9 1407,661.9 1408,660.9 1409,659.8 1410,658.8 1411,657.7 1412,656.6 1413,655.5 1414,654.4"/>
<polyline points="1436,621.5 1437,619.8 1438,618.1 1439,616.5 1440,614.9 1441,613.2"/>
<polyline points="1456,589.2 1457,587.9 1458,586.7 1459,585.4 1460,584.2 1461,582.9 1462,581.7 1463,580.5 1464,579.4 1465,578.2 1466,577.1 1467,575.9 1468,574.8 1469,573.7 1470,572.6 1471,571.6 1472,570.5 1473,569.5 1474,568.4 1475,567.4 1476,566.3 1477,565.3 1478,564.3 1479,563.3 1480,562.3 1481,561.3 1482,560.3 1483,559.3 1484,558.4 1485,557.4 1486,556.4 1487,555.4 1488,554.4 1489,553.5 1490,552.5 1491,551.5 1492,550.5 1493,549.5 1494,548.6 1495,547.6 1496,546.6"/>
<polyline points="1520,523.7 1521,523 1522,522.3 1523,521.7 1524,521 1525,520.4 1526,519.9 1527,519.4 1528,518.9 1529,518.5 1530,518.1 1531,517.8 1532,517.6 1533,517.3 1534,517.1 1535,516.9 1536,516.6 1537,516.4 1538,516.2 1539,516 1540,515.8 1541,515.6 1542,515.5 1543,515.3 1544,515.1 1545,515 1546,514.8 1547,514.7 1548,514.5 1549,514.4 1550,514.3 1551,514.2 1552,514 1553,513.9 1554,513.8 1555,513.7 1556,513.5 1557,513.4 1558,513.3 1559,513.2 1560,513.1 1561,513 1562,512.9 1563,512.7 1564,512.6 1565,512.5 1566,512.4 1567,512.3 1568,512.1 1569,512 1570,511.9 1571,511.7 1572,511.6 1573,511.5 1574,511.3 1575,511.2 1576,511.1 1577,510.9 1578,510.8 1579,510.7 1580,510.6 1581,510.4 1582,510.3 1583,510.2 1584,510.1 1585,510 1586,509.9 1587,509.7 1588,509.6 1589,509.5 1590,509.4 1591,509.4 1592,509.3 1593,509.2 1594,509.1"/>
<polyline points="1633,521.4 1634,521.9 1635,522.3 1636,522.7 1637,523.2 1638,523.6 1639,524 1640,524.4"/>
<polyline points="1676,539 1677,539.4 1678,539.8 1679,540.2 1680,540.7 1681,541.1 1682,541.5 1683,541.9 1684,542.4 1685,542.8 1686,543.2 1687,543.6 1688,544.1 1689,544.5 1690,544.9 1691,545.4 1692,545.8 1693,546.2 1694,546.7 1695,547.1 1696,547.5 1697,548 1698,548.4 1699,548.8 1700,549.3 1701,549.7 1702,550.2 1703,550.6 1704,551 1705,551.5 1706,551.9 1707,552.3 1708,552.8 1709,553.2 1710,553.7 1711,554.1 1712,554.5 1713,555 1714,555.4 1715,555.9 1716,556.3 1717,556.7 1718,557.2 1719,557.6 1720,558 1721,558.5 1722,558.9 1723,559.3 1724,559.8"/>
<polyline points="1759,575.1 1760,575.5 1761,575.9 1762,576.3 1763,576.8 1764,577.2 1765,577.6 1766,578"/>
<polyline points="1800,591.8 1801,592.2 1802,592.5 1803,592.9 1804,593.3 1805,593.7 1806,594 1807,594.4 1808,594.8 1809,595.2 1810,595.5 1811,595.9 1812,596.3 1813,596.6 1814,597 1815,597.4 1816,597.7 1817,598.1 1818,598.5 1819,598.8 1820,599.2 1821,599.5 1822,599.9 1823,600.3 1824,600.6 1825,601 1826,601.3 1827,601.7 1828,602.1 1829,602.4 1830,602.8 1831,603.1 1832,603.5 1833,603.8 1834,604.2 1835,604.6 1836,604.9 1837,605.3 1838,605.6 1839,606 1840,606.4 1841,606.7 1842,607.1 1843,607.4 1844,607.8 1845,608.2 1846,608.5 1847,608.9 1848,609.3 1849,609.6 1850,610 1851,610.4 1852,610.7 1853,611.1 1854,611.5 1855,611.9 1856,612.2 1857,612.6 1858,613 1859,613.4 1860,613.8 1861,614.1 1862,614.5 1863,614.9 1864,615.3 1865,615.7 1866,616.1 1867,616.5 1868,616.8 1869,617.2 1870,617.6 1871,618 1872,618.4 1873,618.8 1874,619.2 1875,619.5 1876,619.9 1877,620.3 1878,620.7 1879,621.1 1880,621.5 1881,621.8 1882,622.2 1883,622.6 1884,623 1885,623.3 1886,623.7 1887,624.1 1888,624.4 1889,624.8 1890,625.2 1891,625.5 1892,625.9 1893,626.2 1894,626.6 1895,626.9"/>
<polyline points="1934,638.7 1935,639 1936,639.3 1937,639.6 1938,639.9 1939,640.2 1940,640.5 1941,640.8 1942,641.1"/>
<polyline points="1982,651.8 1983,652 1984,652.1 1985,652.3 1986,652.5 1987,652.7 1988,652.8 1989,653 1990,653.2 1991,653.3 1992,653.5 1993,653.6 1994,653.8 1995,654 1996,654.1 1997,654.3 1998,654.4 1999,654.6 2000,654.7 2001,654.8 2002,655 2003,655.1 2004,655.3 2005,655.4 2006,655.6 2007,655.7 2008,655.8 2009,656 2010,656.1 2011,656.2 2012,656.4 2013,656.5 2014,656.7 2015,656.8 2016,656.9 2017,657.1 2018,657.2 2019,657.3 2020,657.5 2021,657.6 2022,657.7 2023,657.9 2024,658 2025,658.1 2026,658.3 2027,658.4 2028,658.6 2029,658.7 2030,658.8 2031,659 2032,659.1 2033,659.3 2034,659.4 2035,659.6 2036,659.7 2037,659.9"/>
<polyline points="2079,667.1 2080,667.3 2081,667.4 2082,667.6 2083,667.7 2084,667.9 2085,668 2086,668.2"/>
<polyline points="2131,673.2 2132,673.3 2133,673.4 2134,673.5 2135,673.6 2136,673.7 2137,673.7 2138,673.8 2139,673.9 2140,674 2141,674.1 2142,674.2 2143,674.2 2144,674.3 2145,674.4 2146,674.5 2147,674.6 2148,674.6 2149,674.7 2150,674.8 2151,674.9 2152,674.9 2153,675 2154,675.1 2155,675.2 2156,675.2 2157,675.3 2158,675.4 2159,675.5 2160,675.5 2161,675.6 2162,675.7 2163,675.8 2164,675.8 2165,675.9 2166,676 2167,676 2168,676.1 2169,676.2 2170,676.2 2171,676.3 2172,676.4 2173,676.5 2174,676.5 2175,676.6 2176,676.6 2177,676.7 2178,676.8 2179,676.8 2180,676.9 2181,677 2182,677 2183,677.1 2184,677.2 2185,677.2 2186,677.3 2187,677.3 2188,677.4 2189,677.5 2190,677.5 2191,677.6 2192,677.6 2193,677.7 2194,677.8 2195,677.8 2196,677.9 2197,677.9 2198,678 2199,678 2200,678.1 2201,678.2 2202,678.2 2203,678.3 2204,678.3 2205,678.4 2206,678.4 2207,678.5 2208,678.5 2209,678.6 2210,678.6 2211,678.7 2212,678.7 2213,678.8 2214,678.8 2215,678.9"/>
<polyline points="2261,680.6 2262,680.7 2263,680.7 2264,680.8 2265,680.8 2266,680.9 2267,680.9 2268,681"/>
<polyline points="2312,683.8 2313,683.8 2314,683.8 2315,683.8 2316,683.8 2317,683.8 2318,683.8 2319,683.8 2320,683.8 2321,683.8 2322,683.8 2323,683.8 2324,683.9 2325,683.9 2326,683.9 2327,683.9 2328,683.9 2329,683.9 2330,683.9 2331,683.9 2332,683.9 2333,683.9 2334,683.9 2335,683.9 2336,683.9 2337,683.9 2338,683.9 2339,683.9 2340,684 2341,684 2342,684 2343,684 2344,684 2345,684 2346,684 2347,684 2348,684 2349,684 2350,684 2351,684 2352,684 2353,684 2354,684 2355,684 2356,684 2357,684 2358,684 2359,684 2360,684 2361,684 2362,684 2363,684 2364,684.1 2365,684.1 2366,684.1 2367,684.1 2368,684.1 2369,684.1 2370,684.1 2371,684.1 2372,684.1 2373,684.1 2374,684.1 2375,684.1 2376,684.1 2377,684.1"/>
</g>
</g>
<g fill="none">
<g stroke="#0000ff" stroke-width="15" stroke-linecap="round">
<line x1="583.5" y1="1953.4" x2="591.5" y2="1953.4"/>
<line x1="638.3" y1="1953.4" x2="720" y2="1953.4"/>
<line x1="772.7" y1="1953.4" x2="780.7" y2="1953.4"/>
<line x1="827.5" y1="1953.4" x2="909.2" y2="1953.4"/>
<line x1="961.9" y1="1953" x2="969.9" y2="1952.9"/>
<line x1="1016.7" y1="1952.5" x2="1098.4" y2="1951.9"/>
<line x1="1151.1" y1="1951.8" x2="1159.1" y2="1951.8"/>
<line x1="1205.9" y1="1951.8" x2="1287.6" y2="1951.8"/>
<line x1="1340.2" y1="1948.3" x2="1348.1" y2="1947.6"/>
<line x1="1394.8" y1="1943.7" x2="1476.9" y2="1936.7"/>
<line x1="1529.5" y1="1936" x2="1537.5" y2="1936.1"/>
<line x1="1584.3" y1="1936.5" x2="1666" y2="1937.2"/>
<line x1="1718.7" y1="1937.4" x2="1726.7" y2="1937.4"/>
<line x1="1773.5" y1="1937.5" x2="1855.2" y2="1937.8"/>
<line x1="1907.9" y1="1937.8" x2="1915.9" y2="1937.8"/>
<line x1="1962.7" y1="1937.8" x2="2044.4" y2="1937.8"/>
<line x1="2097.1" y1="1937.8" x2="2105.1" y2="1937.8"/>
<line x1="2151.9" y1="1937.8" x2="2233.6" y2="1937.8"/>
</g>
<g stroke="#000" stroke-width="13" stroke-linecap="round">
<line x1="595.4" y1="1917.6" x2="613.1" y2="1904.5"/>
<line x1="643.6" y1="1881.8" x2="661.3" y2="1868.7"/>
<line x1="691.8" y1="1846.1" x2="709.5" y2="1833"/>
<line x1="784.8" y1="1778.4" x2="802.7" y2="1765.6"/>
<line x1="833.6" y1="1743.4" x2="851.4" y2="1730.6"/>
<line x1="882.8" y1="1708.1" x2="900.7" y2="1695.3"/>
<line x1="963.3" y1="1628.3" x2="977.1" y2="1611.2"/>
<line x1="1000.5" y1="1582.2" x2="1014.3" y2="1565.1"/>
<line x1="1038" y1="1535.7" x2="1051.8" y2="1518.6"/>
<line x1="1075.7" y1="1489" x2="1089.5" y2="1471.9"/>
<line x1="1138" y1="1450.6" x2="1159.7" y2="1454.3"/>
<line x1="1193.3" y1="1459.9" x2="1215" y2="1463.5"/>
<line x1="1252.4" y1="1469.8" x2="1274.1" y2="1473.5"/>
<line x1="1323.9" y1="1476.9" x2="1345.9" y2="1476.2"/>
<line x1="1379.8" y1="1475.1" x2="1401.8" y2="1474.4"/>
<line x1="1441.5" y1="1473.1" x2="1463.5" y2="1472.4"/>
<line x1="1512.5" y1="1472.4" x2="1534.5" y2="1473.1"/>
<line x1="1569.3" y1="1474.3" x2="1591.3" y2="1475"/>
<line x1="1629.7" y1="1476.3" x2="1651.7" y2="1477.1"/>
<line x1="1704" y1="1478.2" x2="1726" y2="1478.4"/>
<line x1="1760.3" y1="1478.6" x2="1782.3" y2="1478.8"/>
<line x1="1819.5" y1="1479.1" x2="1841.5" y2="1479.3"/>
<line x1="1893.9" y1="1486.4" x2="1915.2" y2="1491.8"/>
<line x1="1950.7" y1="1500.9" x2="1972.1" y2="1506.3"/>
<line x1="2008.7" y1="1515.7" x2="2030" y2="1521.2"/>
<line x1="2097.1" y1="1549.4" x2="2116.6" y2="1559.6"/>
<line x1="2149.7" y1="1577.1" x2="2169.1" y2="1587.3"/>
<line x1="2203.9" y1="1605.6" x2="2223.4" y2="1615.9"/>
</g>
<g stroke="#ff0000" stroke-width="13.5" stroke-linecap="round">
<line x1="556.3" y1="1941.8" x2="719.2" y2="1789.7" stroke-linecap="butt" stroke-width="13.5"/>
<line x1="747.6" y1="1767.7" x2="906.5" y2="1665.7" stroke-linecap="butt" stroke-width="13.5"/>
<line x1="934.2" y1="1643.1" x2="1098.1" y2="1476.6" stroke-linecap="butt" stroke-width="13.5"/>
<line x1="1123.8" y1="1451.3" x2="1287" y2="1294.2" stroke-linecap="butt" stroke-width="13.5"/>
<line x1="1310.2" y1="1297.2" x2="1478.8" y2="1538.1" stroke-linecap="butt" stroke-width="13.5"/>
<line x1="1497.1" y1="1569" x2="1670.2" y2="1914.9" stroke-linecap="butt" stroke-width="13.5"/>
<line x1="1696.5" y1="1930.6" x2="1849.7" y2="1931.6" stroke-linecap="butt" stroke-width="15"/>
<line x1="1885.7" y1="1931.8" x2="2038.9" y2="1932.4" stroke-linecap="butt" stroke-width="15"/>
<line x1="2074.9" y1="1932.5" x2="2228.1" y2="1933.2" stroke-linecap="butt" stroke-width="15"/>
<line x1="1701.9" y1="1608.8" x2="1846.3" y2="1596.5" stroke-width="15" stroke-linecap="butt"/>
<line x1="1889.7" y1="1603.2" x2="2036.8" y2="1658.5" stroke-width="15" stroke-linecap="butt"/>
<line x1="2080.3" y1="1668.5" x2="2224.7" y2="1684.5" stroke-width="15" stroke-linecap="butt"/>
</g>
</g>
<rect x="528.3" y="1942.1" width="29" height="29" fill="#fff" stroke="#000" stroke-width="5"/>
<rect x="717.5" y="1801.8" width="29" height="29" fill="#fff" stroke="#000" stroke-width="5"/>
<rect x="906.7" y="1666" width="29" height="29" fill="#fff" stroke="#000" stroke-width="5"/>
<rect x="1095.9" y="1431.5" width="29" height="29" fill="#fff" stroke="#000" stroke-width="5"/>
<rect x="1285.1" y="1463.2" width="29" height="29" fill="#fff" stroke="#000" stroke-width="5"/>
<rect x="1474.3" y="1457.1" width="29" height="29" fill="#fff" stroke="#000" stroke-width="5"/>
<rect x="1663.5" y="1463.4" width="29" height="29" fill="#fff" stroke="#000" stroke-width="5"/>
<rect x="1852.7" y="1465.1" width="29" height="29" fill="#fff" stroke="#000" stroke-width="5"/>
<rect x="2041.9" y="1513.4" width="29" height="29" fill="#fff" stroke="#000" stroke-width="5"/>
<rect x="2231.1" y="1613.1" width="29" height="29" fill="#fff" stroke="#000" stroke-width="5"/>
<circle cx="542.8" cy="1953.4" r="15.4" fill="#fff" stroke="#0000ff" stroke-width="6.6"/>
<circle cx="732" cy="1953.4" r="15.4" fill="#fff" stroke="#0000ff" stroke-width="6.6"/>
<circle cx="921.2" cy="1953.4" r="15.4" fill="#fff" stroke="#0000ff" stroke-width="6.6"/>
<circle cx="1110.4" cy="1951.8" r="15.4" fill="#fff" stroke="#0000ff" stroke-width="6.6"/>
<circle cx="1299.6" cy="1951.8" r="15.4" fill="#fff" stroke="#0000ff" stroke-width="6.6"/>
<circle cx="1488.8" cy="1935.7" r="15.4" fill="#fff" stroke="#0000ff" stroke-width="6.6"/>
<circle cx="1678" cy="1937.3" r="15.4" fill="#fff" stroke="#0000ff" stroke-width="6.6"/>
<circle cx="1867.2" cy="1937.8" r="15.4" fill="#fff" stroke="#0000ff" stroke-width="6.6"/>
<circle cx="2056.4" cy="1937.8" r="15.4" fill="#fff" stroke="#0000ff" stroke-width="6.6"/>
<circle cx="2245.6" cy="1937.8" r="15.4" fill="#fff" stroke="#0000ff" stroke-width="6.6"/>
<path d="M1678 1590.3L1698.5 1610.8L1678 1631.3L1657.5 1610.8Z" fill="#fff" stroke="#ff0000" stroke-width="5"/>
<path d="M1867.2 1574.2L1887.7 1594.7L1867.2 1615.2L1846.7 1594.7Z" fill="#fff" stroke="#ff0000" stroke-width="5"/>
<path d="M2056.4 1645.4L2076.9 1665.9L2056.4 1686.4L2035.9 1665.9Z" fill="#fff" stroke="#ff0000" stroke-width="5"/>
<path d="M2245.6 1666.3L2266.1 1686.8L2245.6 1707.3L2225.1 1686.8Z" fill="#fff" stroke="#ff0000" stroke-width="5"/>
<path d="M542.8 1931.9L565.3 1954.4L542.8 1976.9L520.3 1954.4Z" fill="#ff0000"/>
<path d="M732 1755.2L754.5 1777.7L732 1800.2L709.5 1777.7Z" fill="#ff0000"/>
<path d="M921.2 1633.8L943.7 1656.3L921.2 1678.8L898.7 1656.3Z" fill="#ff0000"/>
<path d="M1110.4 1441.6L1132.9 1464.1L1110.4 1486.6L1087.9 1464.1Z" fill="#ff0000"/>
<path d="M1299.6 1259.6L1322.1 1282.1L1299.6 1304.6L1277.1 1282.1Z" fill="#ff0000"/>
<path d="M1488.8 1530L1511.3 1552.5L1488.8 1575L1466.3 1552.5Z" fill="#ff0000"/>
<path d="M1678 1908L1700.5 1930.5L1678 1953L1655.5 1930.5Z" fill="#ff0000"/>
<path d="M1867.2 1909.2L1889.7 1931.7L1867.2 1954.2L1844.7 1931.7Z" fill="#ff0000"/>
<path d="M2056.4 1910L2078.9 1932.5L2056.4 1955L2033.9 1932.5Z" fill="#ff0000"/>
<path d="M2245.6 1910.8L2268.1 1933.3L2245.6 1955.8L2223.1 1933.3Z" fill="#ff0000"/>
<g stroke="#000" fill="none">
<line x1="314.5" y1="773.6" x2="357.5" y2="773.6" stroke-width="12.5" stroke-linecap="round"/>
<line x1="314.5" y1="559.3" x2="357.5" y2="559.3" stroke-width="12.5" stroke-linecap="round"/>
<line x1="314.5" y1="345.1" x2="357.5" y2="345.1" stroke-width="12.5" stroke-linecap="round"/>
<line x1="314.5" y1="130.8" x2="357.5" y2="130.8" stroke-width="12.5" stroke-linecap="round"/>
<line x1="336" y1="880.7" x2="357.5" y2="880.7" stroke-width="12.5" stroke-linecap="round"/>
<line x1="336" y1="666.4" x2="357.5" y2="666.4" stroke-width="12.5" stroke-linecap="round"/>
<line x1="336" y1="452.2" x2="357.5" y2="452.2" stroke-width="12.5" stroke-linecap="round"/>
<line x1="336" y1="237.9" x2="357.5" y2="237.9" stroke-width="12.5" stroke-linecap="round"/>
<line x1="336" y1="23.7" x2="357.5" y2="23.7" stroke-width="12.5" stroke-linecap="round"/>
<line x1="357.5" y1="881" x2="357.5" y2="903" stroke-width="14" stroke-linecap="round"/>
<line x1="432.2" y1="881" x2="432.2" y2="923" stroke-width="14" stroke-linecap="round"/>
<line x1="507.8" y1="881" x2="507.8" y2="903" stroke-width="14" stroke-linecap="round"/>
<line x1="583.4" y1="881" x2="583.4" y2="923" stroke-width="14" stroke-linecap="round"/>
<line x1="659" y1="881" x2="659" y2="903" stroke-width="14" stroke-linecap="round"/>
<line x1="734.6" y1="881" x2="734.6" y2="923" stroke-width="14" stroke-linecap="round"/>
<line x1="810.2" y1="881" x2="810.2" y2="903" stroke-width="14" stroke-linecap="round"/>
<line x1="885.8" y1="881" x2="885.8" y2="923" stroke-width="14" stroke-linecap="round"/>
<line x1="961.4" y1="881" x2="961.4" y2="903" stroke-width="14" stroke-linecap="round"/>
<line x1="1037" y1="881" x2="1037" y2="923" stroke-width="14" stroke-linecap="round"/>
<line x1="1112.6" y1="881" x2="1112.6" y2="903" stroke-width="14" stroke-linecap="round"/>
<line x1="1188.2" y1="881" x2="1188.2" y2="923" stroke-width="14" stroke-linecap="round"/>
<line x1="1263.8" y1="881" x2="1263.8" y2="903" stroke-width="14" stroke-linecap="round"/>
<line x1="1339.4" y1="881" x2="1339.4" y2="923" stroke-width="14" stroke-linecap="round"/>
<line x1="1415" y1="881" x2="1415" y2="903" stroke-width="14" stroke-linecap="round"/>
<line x1="1490.6" y1="881" x2="1490.6" y2="923" stroke-width="14" stroke-linecap="round"/>
<line x1="1566.2" y1="881" x2="1566.2" y2="903" stroke-width="14" stroke-linecap="round"/>
<line x1="1641.8" y1="881" x2="1641.8" y2="923" stroke-width="14" stroke-linecap="round"/>
<line x1="1717.4" y1="881" x2="1717.4" y2="903" stroke-width="14" stroke-linecap="round"/>
<line x1="1793" y1="881" x2="1793" y2="923" stroke-width="14" stroke-linecap="round"/>
<line x1="1868.6" y1="881" x2="1868.6" y2="903" stroke-width="14" stroke-linecap="round"/>
<line x1="1944.2" y1="881" x2="1944.2" y2="923" stroke-width="14" stroke-linecap="round"/>
<line x1="2019.8" y1="881" x2="2019.8" y2="903" stroke-width="14" stroke-linecap="round"/>
<line x1="2095.4" y1="881" x2="2095.4" y2="923" stroke-width="14" stroke-linecap="round"/>
<line x1="2171" y1="881" x2="2171" y2="903" stroke-width="14" stroke-linecap="round"/>
<line x1="2246.6" y1="881" x2="2246.6" y2="923" stroke-width="14" stroke-linecap="round"/>
<line x1="2322.2" y1="881" x2="2322.2" y2="903" stroke-width="14" stroke-linecap="round"/>
<line x1="2397.5" y1="881" x2="2397.5" y2="923" stroke-width="14" stroke-linecap="round"/>
<line x1="337" y1="24" x2="2397.5" y2="24" stroke-width="15" stroke-linecap="round"/>
<line x1="337" y1="881" x2="2397.5" y2="881" stroke-width="14" stroke-linecap="round"/>
<rect x="350.8" y="16.5" width="13.5" height="864.5" fill="#000" stroke="none"/>
<rect x="2390.8" y="16.5" width="13.5" height="864.5" fill="#000" stroke="none"/>
<line x1="311.2" y1="1961.4" x2="354" y2="1961.4" stroke-width="12.5" stroke-linecap="round"/>
<line x1="311.2" y1="1747" x2="354" y2="1747" stroke-width="12.5" stroke-linecap="round"/>
<line x1="311.2" y1="1532.5" x2="354" y2="1532.5" stroke-width="12.5" stroke-linecap="round"/>
<line x1="311.2" y1="1318.1" x2="354" y2="1318.1" stroke-width="12.5" stroke-linecap="round"/>
<line x1="332" y1="2068.6" x2="354" y2="2068.6" stroke-width="12.5" stroke-linecap="round"/>
<line x1="332" y1="1854.2" x2="354" y2="1854.2" stroke-width="12.5" stroke-linecap="round"/>
<line x1="332" y1="1639.7" x2="354" y2="1639.7" stroke-width="12.5" stroke-linecap="round"/>
<line x1="332" y1="1425.3" x2="354" y2="1425.3" stroke-width="12.5" stroke-linecap="round"/>
<line x1="332" y1="1210.9" x2="354" y2="1210.9" stroke-width="12.5" stroke-linecap="round"/>
<line x1="354" y1="2068.4" x2="354" y2="2090.4" stroke-width="14" stroke-linecap="round"/>
<line x1="429.3" y1="2068.4" x2="429.3" y2="2110.4" stroke-width="14" stroke-linecap="round"/>
<line x1="505" y1="2068.4" x2="505" y2="2090.4" stroke-width="14" stroke-linecap="round"/>
<line x1="580.7" y1="2068.4" x2="580.7" y2="2110.4" stroke-width="14" stroke-linecap="round"/>
<line x1="656.3" y1="2068.4" x2="656.3" y2="2090.4" stroke-width="14" stroke-linecap="round"/>
<line x1="732" y1="2068.4" x2="732" y2="2110.4" stroke-width="14" stroke-linecap="round"/>
<line x1="807.7" y1="2068.4" x2="807.7" y2="2090.4" stroke-width="14" stroke-linecap="round"/>
<line x1="883.4" y1="2068.4" x2="883.4" y2="2110.4" stroke-width="14" stroke-linecap="round"/>
<line x1="959.1" y1="2068.4" x2="959.1" y2="2090.4" stroke-width="14" stroke-linecap="round"/>
<line x1="1034.7" y1="2068.4" x2="1034.7" y2="2110.4" stroke-width="14" stroke-linecap="round"/>
<line x1="1110.4" y1="2068.4" x2="1110.4" y2="2090.4" stroke-width="14" stroke-linecap="round"/>
<line x1="1186.1" y1="2068.4" x2="1186.1" y2="2110.4" stroke-width="14" stroke-linecap="round"/>
<line x1="1261.8" y1="2068.4" x2="1261.8" y2="2090.4" stroke-width="14" stroke-linecap="round"/>
<line x1="1337.5" y1="2068.4" x2="1337.5" y2="2110.4" stroke-width="14" stroke-linecap="round"/>
<line x1="1413.1" y1="2068.4" x2="1413.1" y2="2090.4" stroke-width="14" stroke-linecap="round"/>
<line x1="1488.8" y1="2068.4" x2="1488.8" y2="2110.4" stroke-width="14" stroke-linecap="round"/>
<line x1="1564.5" y1="2068.4" x2="1564.5" y2="2090.4" stroke-width="14" stroke-linecap="round"/>
<line x1="1640.2" y1="2068.4" x2="1640.2" y2="2110.4" stroke-width="14" stroke-linecap="round"/>
<line x1="1715.9" y1="2068.4" x2="1715.9" y2="2090.4" stroke-width="14" stroke-linecap="round"/>
<line x1="1791.5" y1="2068.4" x2="1791.5" y2="2110.4" stroke-width="14" stroke-linecap="round"/>
<line x1="1867.2" y1="2068.4" x2="1867.2" y2="2090.4" stroke-width="14" stroke-linecap="round"/>
<line x1="1942.9" y1="2068.4" x2="1942.9" y2="2110.4" stroke-width="14" stroke-linecap="round"/>
<line x1="2018.6" y1="2068.4" x2="2018.6" y2="2090.4" stroke-width="14" stroke-linecap="round"/>
<line x1="2094.3" y1="2068.4" x2="2094.3" y2="2110.4" stroke-width="14" stroke-linecap="round"/>
<line x1="2169.9" y1="2068.4" x2="2169.9" y2="2090.4" stroke-width="14" stroke-linecap="round"/>
<line x1="2245.6" y1="2068.4" x2="2245.6" y2="2110.4" stroke-width="14" stroke-linecap="round"/>
<line x1="2321.3" y1="2068.4" x2="2321.3" y2="2090.4" stroke-width="14" stroke-linecap="round"/>
<line x1="2397" y1="2068.4" x2="2397" y2="2110.4" stroke-width="14" stroke-linecap="round"/>
<line x1="333" y1="1210" x2="2397" y2="1210" stroke-width="13.5" stroke-linecap="round"/>
<line x1="333" y1="2068.4" x2="2397" y2="2068.4" stroke-width="14" stroke-linecap="round"/>
<rect x="347.2" y="1202.5" width="13.5" height="865.9" fill="#000" stroke="none"/>
<rect x="2390.2" y="1202.5" width="13.5" height="865.9" fill="#000" stroke="none"/>
</g>
<g font-family="'Liberation Sans', Arial, Helvetica, sans-serif" font-weight="bold" fill="#000">
<text x="365.4" y="104" font-size="80">(a)</text>
<text x="360.6" y="1291" font-size="80">(b)</text>
<text transform="translate(287 790.6) scale(0.93 1)" font-size="64.5" text-anchor="end">0.002</text>
<text transform="translate(287 576.3) scale(0.93 1)" font-size="64.5" text-anchor="end">0.004</text>
<text transform="translate(287 362.1) scale(0.93 1)" font-size="64.5" text-anchor="end">0.006</text>
<text transform="translate(287 147.8) scale(0.93 1)" font-size="64.5" text-anchor="end">0.008</text>
<text transform="translate(282.8 1978) scale(0.93 1)" font-size="64.5" text-anchor="end">0</text>
<text transform="translate(282.8 1763.6) scale(0.93 1)" font-size="64.5" text-anchor="end">200</text>
<text transform="translate(282.8 1549.1) scale(0.93 1)" font-size="64.5" text-anchor="end">400</text>
<text transform="translate(282.8 1334.7) scale(0.93 1)" font-size="64.5" text-anchor="end">600</text>
<text transform="translate(433 998.3) scale(0.93 1)" font-size="64.5" text-anchor="middle">12</text>
<text transform="translate(430.1 2186.2) scale(0.93 1)" font-size="64.5" text-anchor="middle">12</text>
<text transform="translate(584.2 998.3) scale(0.93 1)" font-size="64.5" text-anchor="middle">16</text>
<text transform="translate(581.5 2186.2) scale(0.93 1)" font-size="64.5" text-anchor="middle">16</text>
<text transform="translate(735.4 998.3) scale(0.93 1)" font-size="64.5" text-anchor="middle">20</text>
<text transform="translate(732.8 2186.2) scale(0.93 1)" font-size="64.5" text-anchor="middle">20</text>
<text transform="translate(886.6 998.3) scale(0.93 1)" font-size="64.5" text-anchor="middle">24</text>
<text transform="translate(884.2 2186.2) scale(0.93 1)" font-size="64.5" text-anchor="middle">24</text>
<text transform="translate(1037.8 998.3) scale(0.93 1)" font-size="64.5" text-anchor="middle">28</text>
<text transform="translate(1035.5 2186.2) scale(0.93 1)" font-size="64.5" text-anchor="middle">28</text>
<text transform="translate(1189 998.3) scale(0.93 1)" font-size="64.5" text-anchor="middle">32</text>
<text transform="translate(1186.9 2186.2) scale(0.93 1)" font-size="64.5" text-anchor="middle">32</text>
<text transform="translate(1340.2 998.3) scale(0.93 1)" font-size="64.5" text-anchor="middle">36</text>
<text transform="translate(1338.3 2186.2) scale(0.93 1)" font-size="64.5" text-anchor="middle">36</text>
<text transform="translate(1491.4 998.3) scale(0.93 1)" font-size="64.5" text-anchor="middle">40</text>
<text transform="translate(1489.6 2186.2) scale(0.93 1)" font-size="64.5" text-anchor="middle">40</text>
<text transform="translate(1642.6 998.3) scale(0.93 1)" font-size="64.5" text-anchor="middle">44</text>
<text transform="translate(1641 2186.2) scale(0.93 1)" font-size="64.5" text-anchor="middle">44</text>
<text transform="translate(1793.8 998.3) scale(0.93 1)" font-size="64.5" text-anchor="middle">48</text>
<text transform="translate(1792.3 2186.2) scale(0.93 1)" font-size="64.5" text-anchor="middle">48</text>
<text transform="translate(1945 998.3) scale(0.93 1)" font-size="64.5" text-anchor="middle">52</text>
<text transform="translate(1943.7 2186.2) scale(0.93 1)" font-size="64.5" text-anchor="middle">52</text>
<text transform="translate(2096.2 998.3) scale(0.93 1)" font-size="64.5" text-anchor="middle">56</text>
<text transform="translate(2095.1 2186.2) scale(0.93 1)" font-size="64.5" text-anchor="middle">56</text>
<text transform="translate(2247.4 998.3) scale(0.93 1)" font-size="64.5" text-anchor="middle">60</text>
<text transform="translate(2246.4 2186.2) scale(0.93 1)" font-size="64.5" text-anchor="middle">60</text>
<text transform="translate(2398.6 998.3) scale(0.93 1)" font-size="64.5" text-anchor="middle">64</text>
<text transform="translate(2397.8 2186.2) scale(0.93 1)" font-size="64.5" text-anchor="middle">64</text>
<text transform="translate(76.2 502.3) rotate(-90)" font-size="74" text-anchor="middle">Cp (cal/°C)</text>
<text transform="translate(79.2 1691.8) rotate(-90)" font-size="74" text-anchor="middle">size,d (nm)</text>
<text x="1374.7" y="2272.6" font-size="67" text-anchor="middle">T (°C)</text>
<text transform="translate(1465.5 107.6) scale(0.967 1)" font-size="80">F88 1wt%</text>
<text transform="translate(1465.5 204.8) scale(0.967 1)" font-size="80">L92 0.5wt%</text>
<text transform="translate(1465.5 302.8) scale(0.967 1)" font-size="80">L92 0.5wt% + F88 1wt%</text>
</g>
<g fill="none" stroke-linecap="round">
<line x1="1295" y1="84.3" x2="1361" y2="84.3" stroke="#0000ff" stroke-width="15"/>
<line x1="1407.5" y1="84.3" x2="1414.5" y2="84.3" stroke="#0000ff" stroke-width="15"/>
<line x1="1294.6" y1="182" x2="1315.8" y2="182" stroke="#000" stroke-width="15"/>
<line x1="1355.6" y1="182" x2="1374.4" y2="182" stroke="#000" stroke-width="15"/>
<line x1="1415" y1="182" x2="1435.7" y2="182" stroke="#000" stroke-width="15"/>
<line x1="1293.5" y1="280.2" x2="1443.5" y2="280.2" stroke="#ff0000" stroke-width="13.5"/>
</g>
</svg>
</body>
</html>
